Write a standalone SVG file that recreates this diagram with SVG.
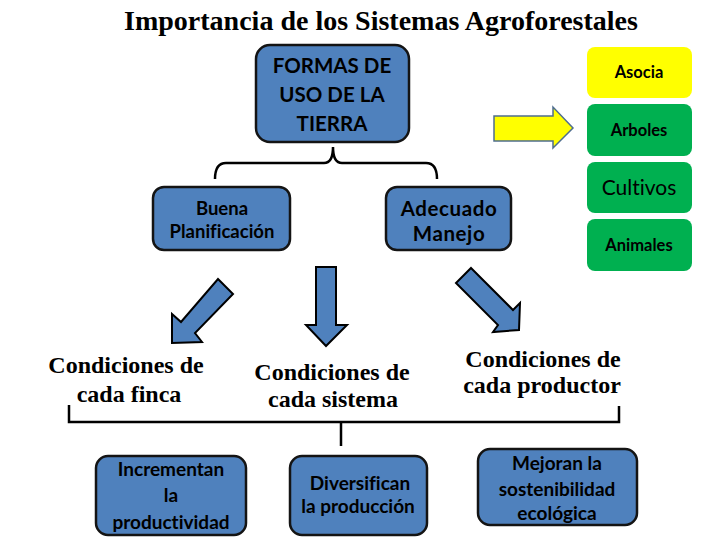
<svg xmlns="http://www.w3.org/2000/svg" width="728" height="546" viewBox="0 0 728 546">
<style>
.box{fill:#4F81BD;stroke:#141414;stroke-width:2.5}
.g{fill:#00B050}
.t{font-family:Lato,"Liberation Sans",sans-serif;font-weight:bold;fill:#000;text-anchor:middle;font-variant-ligatures:none}
.n{font-weight:normal}
.s{font-family:"Liberation Serif","Times New Roman",serif;font-weight:bold;fill:#000;text-anchor:middle}
.arr{fill:#4F81BD;stroke:#000;stroke-width:2;stroke-linejoin:miter}
.ln{fill:none;stroke:#000;stroke-width:2.5}
</style>
<rect width="728" height="546" fill="#fff"/>
<text class="s" x="381" y="30" font-size="28">Importancia de los Sistemas Agroforestales</text>

<g id="formas">
<rect class="box" x="256" y="45" width="153" height="97" rx="14"/>
<text class="t" x="332" y="73" font-size="20.5">FORMAS DE</text>
<text class="t" x="332" y="102" font-size="20.5">USO DE LA</text>
<text class="t" x="332" y="131" font-size="20.5">TIERRA</text>
</g>
<g id="buena">
<rect class="box" x="153" y="187" width="137" height="63" rx="11"/>
<text class="t" x="222" y="215" font-size="18.5">Buena</text>
<text class="t" x="222" y="238" font-size="18.5">Planificación</text>
</g>
<g id="adecuado">
<rect class="box" x="386" y="187" width="125" height="63" rx="11"/>
<text class="t" x="449" y="216" font-size="20.5" letter-spacing="0.6">Adecuado</text>
<text class="t" x="449" y="241" font-size="20.5" letter-spacing="0.6">Manejo</text>
</g>

<g id="asocia">
<rect x="587" y="47" width="105" height="51" rx="8" fill="#FFFF00"/>
<text class="t" x="639" y="78" font-size="16.5">Asocia</text>
</g>
<g id="arboles">
<rect class="g" x="587" y="104" width="105" height="52" rx="8"/>
<text class="t" x="639" y="136" font-size="16.5">Arboles</text>
</g>
<g id="cultivos">
<rect class="g" x="587" y="162" width="105" height="51" rx="8"/>
<text class="t n" x="639" y="195" font-size="21">Cultivos</text>
</g>
<g id="animales">
<rect class="g" x="587" y="219" width="105" height="52" rx="8"/>
<text class="t" x="639" y="251" font-size="16.5">Animales</text>
</g>

<g id="cond-finca">
<text class="s" x="126" y="373" font-size="24">Condiciones de</text>
<text class="s" x="129" y="402" font-size="24">cada finca</text>
</g>
<g id="cond-sistema">
<text class="s" x="332" y="380" font-size="24">Condiciones de</text>
<text class="s" x="333" y="407" font-size="24">cada sistema</text>
</g>
<g id="cond-productor">
<text class="s" x="543" y="367" font-size="24">Condiciones de</text>
<text class="s" x="542" y="393" font-size="24">cada productor</text>
</g>

<g id="incrementan">
<rect class="box" x="96" y="456" width="150" height="79" rx="12"/>
<text class="t" x="171" y="476" font-size="19">Incrementan</text>
<text class="t" x="171" y="502" font-size="19">la</text>
<text class="t" x="171" y="529" font-size="19">productividad</text>
</g>
<g id="diversifican">
<rect class="box" x="290" y="456" width="137" height="79" rx="12"/>
<text class="t" x="360" y="490" font-size="19">Diversifican</text>
<text class="t" x="358" y="513" font-size="19">la producción</text>
</g>
<g id="mejoran">
<rect class="box" x="478" y="449" width="159" height="76" rx="12"/>
<text class="t" x="557" y="470" font-size="19">Mejoran la</text>
<text class="t" x="557" y="496" font-size="19">sostenibilidad</text>
<text class="t" x="557" y="520" font-size="19">ecológica</text>
</g>

<g id="connectors">
<path class="ln" d="M215,179 Q215,163 226,163 H324 Q333,163 333,147 Q333,163 342,163 H426 Q437,163 437,179" stroke-width="2.2"/>
<path class="ln" d="M69,405 V422 H619 V406 M341,422 V446"/>
<polygon fill="#FFFF00" stroke="#4F6E8E" stroke-width="1.5" points="494,116 553,116 553,107 573,128 553,148 553,141 494,141"/>
<polygon class="arr" points="218,279 233,294 195,333 202,342 172,343 172,314 181,322"/>
<polygon class="arr" points="316,267 336,267 336,325 347,325 326,346 306,325 316,325"/>
<polygon class="arr" points="471,268 513,310 520,303 519,330 493,332 498,325 456,283"/>
</g>
</svg>
